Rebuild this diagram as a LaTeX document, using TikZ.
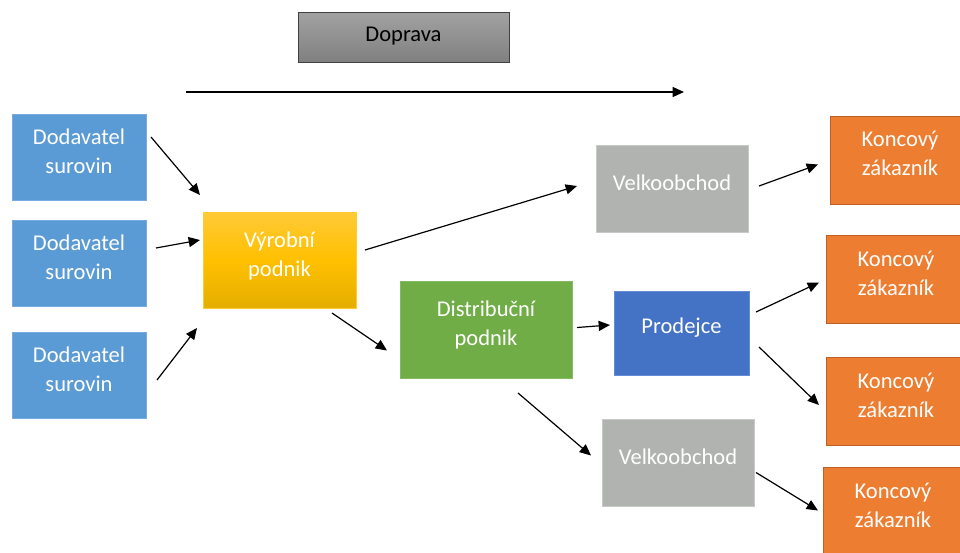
\documentclass[tikz,border=0pt]{standalone}
\usepackage{fontspec}
\setmainfont{Carlito}
\usetikzlibrary{arrows.meta}
\usetikzlibrary{calc}
\definecolor{dodblue}{RGB}{91,155,213}
\definecolor{dodline}{RGB}{120,172,222}
\definecolor{disgreen}{RGB}{112,173,71}
\definecolor{velgray}{RGB}{177,179,176}
\definecolor{velline}{RGB}{200,202,200}
\definecolor{problue}{RGB}{68,114,196}
\definecolor{proline}{RGB}{100,140,215}
\definecolor{konorange}{RGB}{237,125,49}
\definecolor{konline}{RGB}{190,95,35}
\definecolor{vyrtop}{RGB}{255,202,55}
\definecolor{vyrmid}{RGB}{255,192,0}
\definecolor{vyrbot}{RGB}{228,174,0}
\definecolor{doptop}{RGB}{162,162,162}
\definecolor{dopbot}{RGB}{128,128,128}

\begin{document}
\begin{tikzpicture}[x=0.75pt,y=-0.75pt,
  main node/.style={rectangle,draw,line width=0.75pt,inner sep=0.,outer sep=0.,align=center,text=white,text depth=9pt,font=\fontsize{16.9}{21.5}\selectfont},
  dod node/.style={main node,fill=dodblue,draw=dodline,minimum width=100.5pt,minimum height=64.5pt},
  vel node/.style={main node,fill=velgray,draw=velline,minimum width=114pt,minimum height=65.25pt},
  kon node/.style={main node,fill=konorange,draw=konline,minimum width=105pt,minimum height=66pt},
  arr/.style={line width=0.9pt,-{Triangle[length=8.5pt,width=7.5pt]}}]%
  \useasboundingbox (0,0) rectangle (960,553);
  \node[main node,top color=doptop,bottom color=dopbot,draw=black!75,text=black,text depth=3.5pt,minimum width=158.25pt,minimum height=37.5pt] (dop) at (403.5,37) {Doprava};
  \coordinate (tstart) at (186,92);
  \coordinate (tend) at (684,92);
  \draw[arr] (tstart)--(tend);
  \node[dod node] (d1) at (79,157) {Dodavatel\\surovin};
  \node[dod node] (d2) at (79,263) {Dodavatel\\surovin};
  \node[dod node] (d3) at (79,375) {Dodavatel\\surovin};
  \node[main node,top color=vyrtop,bottom color=vyrbot,middle color=vyrmid,draw=vyrmid!80!white,minimum width=114.75pt,minimum height=72pt] (vyr) at (279.5,260) {Výrobní\\podnik};
  \node[main node,fill=disgreen,draw=disgreen!85!white,minimum width=129pt,minimum height=72.75pt] (dis) at (486,329.5) {Distribuční\\podnik};
  \node[vel node] (vel1) at (672,188.5) {Velkoobchod};
  \node[main node,fill=problue,draw=proline,minimum width=101.25pt,minimum height=63pt,text depth=11pt] (pro) at (681.5,333) {Prodejce};
  \node[vel node] (vel2) at (678,462.5) {Velkoobchod};
  \node[kon node,text depth=11pt] (k1) at (900,160.5) {Koncový\\zákazník};
  \node[kon node] (k2) at (896,279.5) {Koncový\\zákazník};
  \node[kon node] (k3) at (896,401) {Koncový\\zákazník};
  \node[kon node] (k4) at (893,511.5) {Koncový\\zákazník};
  \draw[arr] ($(d1.east)+(5,-20)$)--($(vyr.north west)+(-3,-17)$);
  \draw[arr] ($(d2.east)+(10,-15)$)--($(vyr.west)+(-3,-20)$);
  \draw[arr] ($(d3.east)+(11,5)$)--($(vyr.south west)+(-6,20)$);
  \draw[arr] ($(vyr.east)+(9,-10)$)--($(vel1.west)+(-19,-2.5)$);
  \draw[arr] ($(vyr.south east)+(-24,5)$)--($(dis.west)+(-13,21)$);
  \draw[arr] ($(dis.east)+(5,-2)$)--($(pro.west)+(-4,-8)$);
  \draw[arr] ($(vel1.east)+(11,-2.5)$)--($(k1.west)+(-12,4)$);
  \draw[arr] ($(pro.east)+(7,-21)$)--($(k2.west)+(-7,3)$);
  \draw[arr] ($(pro.east)+(10,14)$)--($(k3.west)+(-7,4)$);
  \draw[arr] ($(dis.south)+(32,15)$)--($(vel2.west)+(-11,-7)$);
  \draw[arr] ($(vel2.east)+(2,10)$)--($(k4.west)+(-5,-1)$);
\end{tikzpicture}
\end{document}
